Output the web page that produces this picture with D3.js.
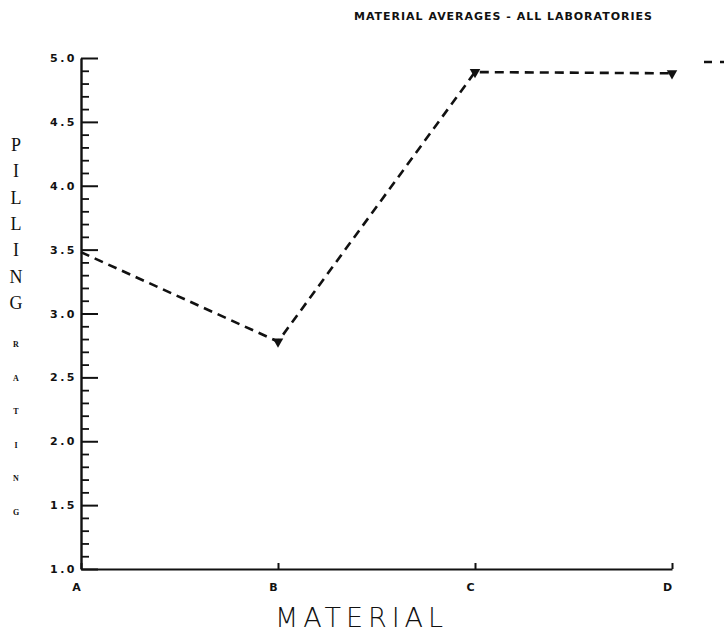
<!DOCTYPE html>
<html>
<head>
<meta charset="utf-8">
<script src="https://cdn.jsdelivr.net/npm/d3@7"></script>
<style>
  body { margin: 0; background: #fff; }
  svg text { fill: #111; }
</style>
</head>
<body>
<svg id="chart" width="724" height="635"></svg>
<script>
// data
const materials = ["A", "B", "C", "D"];
const pillingRating = [3.48, 2.78, 4.89, 4.88];
const majorTicks = [1.0, 1.5, 2.0, 2.5, 3.0, 3.5, 4.0, 4.5, 5.0];
const minorTicks = [1.1, 1.2, 1.3, 1.4, 1.6, 1.7, 1.8, 1.9, 2.1, 2.2, 2.3, 2.4,
    2.6, 2.7, 2.8, 2.9, 3.1, 3.2, 3.3, 3.4, 3.6, 3.7, 3.8, 3.9, 4.1, 4.2, 4.3, 4.4,
    4.6, 4.7, 4.8, 4.9];
const yTitleBig = ["P", "I", "L", "L", "I", "N", "G"];
const yTitleSmall = ["R", "A", "T", "I", "N", "G"];

const svg = d3.select('#chart');

let x = d3.scalePoint()
    .domain(materials)
    .range([81, 672]);

let y = d3.scaleLinear()
    .domain([1, 5])
    .range([569, 58]);

// title
svg.append('text')
    .attr('x', 354).attr('y', 20)
    .attr('textLength', 298)
    .attr('lengthAdjust', 'spacing')
    .style('font-family', 'DejaVu Sans, sans-serif')
    .style('font-size', '11px')
    .style('font-weight', '600')
    .text('MATERIAL AVERAGES - ALL LABORATORIES');

// minor ticks first, then the major axis on top
svg.append('g')
    .attr('transform', 'translate(81,0)')
    .call(d3.axisLeft(y).tickValues(minorTicks).tickSizeInner(-8).tickSizeOuter(0).tickFormat(''))
    .call(g => g.select('.domain').remove())
    .selectAll('line').attr('stroke', '#111').attr('stroke-width', 1.8);

let yAxis = svg.append('g')
    .attr('transform', 'translate(81,0)')
    .call(d3.axisLeft(y).tickValues(majorTicks).tickSizeInner(-17).tickSizeOuter(0)
        .tickPadding(4).tickFormat(d3.format('.1f')));
yAxis.select('.domain').attr('stroke', '#111').attr('stroke-width', 2.4);
yAxis.selectAll('line').attr('stroke', '#111').attr('stroke-width', 2);
yAxis.selectAll('text')
    .style('font-family', 'DejaVu Sans, sans-serif')
    .style('font-size', '11px')
    .style('font-weight', 'bold')
    .style('letter-spacing', '2.5px');

let xAxis = svg.append('g')
    .attr('transform', 'translate(0,569)')
    .call(d3.axisBottom(x).tickSizeInner(-6).tickSizeOuter(0).tickPadding(14));
xAxis.select('.domain').attr('stroke', '#111').attr('stroke-width', 2.2);
xAxis.selectAll('line').attr('stroke', '#111').attr('stroke-width', 2);
xAxis.selectAll('text')
    .attr('dx', -5)
    .style('font-family', 'DejaVu Sans, sans-serif')
    .style('font-size', '11px')
    .style('font-weight', 'bold');

// x title
svg.append('text')
    .attr('x', 359).attr('y', 627)
    .attr('text-anchor', 'middle')
    .attr('textLength', 168)
    .attr('lengthAdjust', 'spacing')
    .style('font-family', 'DejaVu Sans, sans-serif')
    .style('font-size', '27px')
    .style('font-weight', '200')
    .text('MATERIAL');

// y title, stacked letters
svg.append('g').selectAll('text')
    .data(yTitleBig)
    .join('text')
    .attr('x', 16)
    .attr('y', (d, i) => 151 + i * 26.3)
    .attr('text-anchor', 'middle')
    .style('font-family', 'Liberation Serif, serif')
    .style('font-size', '18px')
    .text(d => d);

svg.append('g').selectAll('text')
    .data(yTitleSmall)
    .join('text')
    .attr('x', 16)
    .attr('y', (d, i) => 347 + i * 33.6)
    .attr('text-anchor', 'middle')
    .style('font-family', 'Liberation Serif, serif')
    .style('font-size', '8px')
    .style('font-weight', 'bold')
    .text(d => d);

// the dashed series
let points = materials.map((m, i) => ({ m: m, v: pillingRating[i] }));

let line = d3.line()
    .x(d => x(d.m))
    .y(d => y(d.v));

svg.append('path')
    .datum(points)
    .attr('d', line)
    .attr('fill', 'none')
    .attr('stroke', '#111')
    .attr('stroke-width', 2.6)
    .attr('stroke-dasharray', '9,6');

svg.append('g').selectAll('path')
    .data(points.slice(1))
    .join('path')
    .attr('transform', d => `translate(${x(d.m)},${y(d.v)}) rotate(180)`)
    .attr('d', d3.symbol(d3.symbolTriangle, 48))
    .attr('fill', '#111');

// legend line, cut off at the right edge
svg.append('line')
    .attr('x1', 704).attr('x2', 740)
    .attr('y1', 62).attr('y2', 62)
    .attr('stroke', '#111')
    .attr('stroke-width', 2.6)
    .attr('stroke-dasharray', '8,8');
</script>
</body>
</html>
